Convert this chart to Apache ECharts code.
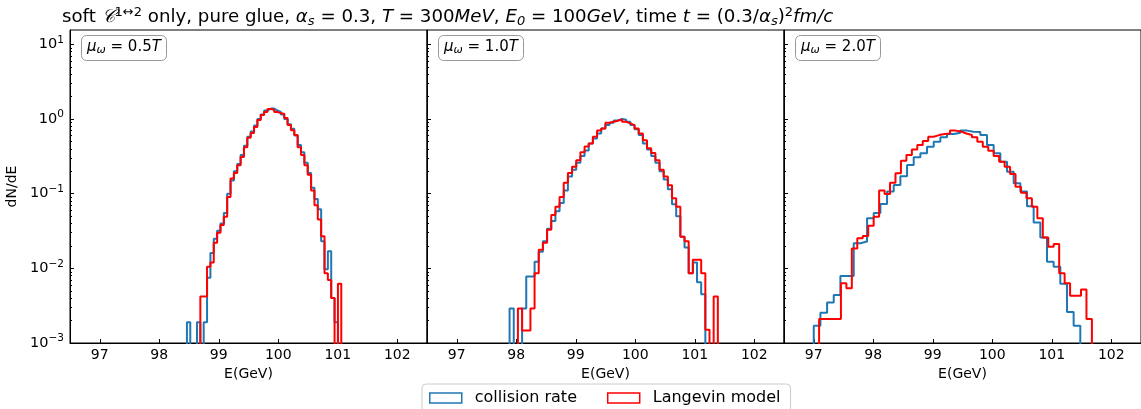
<!DOCTYPE html>
<html><head><meta charset="utf-8">
<script src="https://cdn.jsdelivr.net/npm/echarts@6/dist/echarts.min.js"></script>
<style>html,body{margin:0;padding:0;background:#fff}#c{width:1141px;height:409px}</style>
</head><body><div id="c"></div>
<script>
// ---------------- data ----------------
const seriesNames = ['collision rate', 'Langevin model'];
const panelMu = ['0.5', '1.0', '2.0'];
const xTickValues = [97, 98, 99, 100, 101, 102];
const yMajorTicks = [0.001, 0.01, 0.1, 1, 10];

// panel 1 (mu = 0.5T): bin start (GeV), bin width (GeV), dN/dE per bin
const p1Start = 98.465, p1Width = 0.0564;
const p1Collision = [0.0019,0,0,0.0019,0,0.0019,0.0075,0.016,0.025,0.032,0.04,0.055,0.1,0.15,0.2,0.25,0.33,0.44,0.58,0.68,0.82,1.0,1.15,1.3,1.38,1.38,1.3,1.25,1.15,1.0,0.85,0.74,0.6,0.45,0.36,0.26,0.19,0.12,0.085,0.062,0.023,0.0097,0.017,0.004,0.0019,0,0];
const p1Langevin  = [0,0,0,0,0.0042,0.0042,0.0105,0.012,0.022,0.030,0.038,0.049,0.09,0.16,0.19,0.24,0.31,0.42,0.56,0.65,0.78,0.97,1.13,1.24,1.36,1.33,1.24,1.2,1.18,1.03,0.83,0.71,0.61,0.42,0.33,0.24,0.18,0.11,0.07,0.045,0.027,0.0086,0.007,0.004,0,0.0062,0];

// panel 2 (mu = 1.0T)
const p2Start = 97.888, p2Width = 0.070;
const p2Collision = [0.0029,0,0,0.0029,0.0078,0.0078,0.0123,0.0167,0.023,0.034,0.043,0.058,0.075,0.11,0.17,0.21,0.26,0.32,0.38,0.47,0.55,0.64,0.75,0.83,0.89,0.96,1.0,0.98,0.92,0.83,0.73,0.61,0.47,0.39,0.32,0.26,0.2,0.155,0.115,0.072,0.05,0.0265,0.019,0.0086,0.012,0.0065,0.0045,0,0,0];
const p2Langevin  = [0,0,0.0029,0.00147,0.00147,0.0029,0.0086,0.0177,0.022,0.033,0.052,0.067,0.09,0.14,0.19,0.23,0.28,0.36,0.43,0.47,0.58,0.70,0.75,0.89,0.92,0.95,0.99,0.92,0.875,0.83,0.75,0.64,0.52,0.405,0.35,0.28,0.21,0.17,0.13,0.087,0.067,0.0265,0.023,0.0086,0.013,0.013,0.0086,0.0015,0,0.0042];

// panel 3 (mu = 2.0T): the two series use different binnings
const p3CollStart = 97.0, p3CollWidth = 0.112;
const p3Collision = [0.0017,0.00255,0.0035,0.0044,0.0079,0.0079,0.0217,0.0229,0.047,0.055,0.073,0.107,0.131,0.172,0.242,0.307,0.347,0.426,0.497,0.569,0.63,0.656,0.70,0.676,0.67,0.61,0.45,0.347,0.268,0.197,0.138,0.107,0.068,0.041,0.026,0.0123,0.0105,0.0062,0.0026,0.0017];
const p3LangStart = 97.09, p3LangWidth = 0.0917;
const p3Langevin  = [0.0021,0.0021,0.0021,0.0021,0.0063,0.0054,0.0185,0.0254,0.0272,0.0372,0.049,0.11,0.099,0.14,0.188,0.277,0.33,0.39,0.45,0.51,0.58,0.61,0.63,0.64,0.70,0.68,0.64,0.61,0.569,0.497,0.426,0.376,0.32,0.268,0.23,0.184,0.124,0.103,0.087,0.067,0.047,0.026,0.0195,0.0212,0.0086,0.0063,0.0043,0.0043,0.0052,0.0021];

// ---------------- helpers ----------------
const FLOOR = 1e-5; // empty bins fall below the axis and get clipped
function stepLine(start, width, vals) {
  const pts = [[start, FLOOR]];
  vals.forEach((v, i) => {
    const y = v > 0 ? v : FLOOR;
    pts.push([start + i * width, y], [start + (i + 1) * width, y]);
  });
  pts.push([start + vals.length * width, FLOOR]);
  return pts;
}
const yMinorTicks = [];
for (let e = -3; e <= 0; e++) for (let k = 2; k <= 9; k++) yMinorTicks.push(+(k * Math.pow(10, e)).toPrecision(3));

const panels = [
  [stepLine(p1Start, p1Width, p1Collision), stepLine(p1Start, p1Width, p1Langevin)],
  [stepLine(p2Start, p2Width, p2Collision), stepLine(p2Start, p2Width, p2Langevin)],
  [stepLine(p3CollStart, p3CollWidth, p3Collision), stepLine(p3LangStart, p3LangWidth, p3Langevin)]
];
const colors = ['#1f77b4', '#ff0000'];
const FONT = 'DejaVu Sans';
const gridLefts = [70, 427, 784];
const TF = 18.2;

const grids = [], xAxes = [], yAxes = [], series = [], titles = [];
titles.push({
  left: 62, top: 6, padding: 0,
  text: '{n|soft }{cal|𝒞}{sup|1↔2}{n| only, pure glue, }{i|α}{sub|s}{n| = 0.3, }{i|T}{n| = 300}{i|MeV}{n|, }{i|E}{sub|0}{n| = 100}{i|GeV}{n|, time }{i|t}{n| = (0.3/}{i|α}{sub|s}{n|)}{sup|2}{i|fm/c}',
  textStyle: {
    fontFamily: FONT, fontSize: TF, color: '#000', fontWeight: 'normal',
    rich: {
      n: {fontSize: TF, fontFamily: FONT, color: '#000'},
      i: {fontSize: TF, fontFamily: FONT, fontStyle: 'italic', color: '#000'},
      cal: {fontSize: TF, fontFamily: 'DejaVu Serif', fontStyle: 'italic', color: '#000'},
      sup: {fontSize: 13, fontFamily: FONT, color: '#000', padding: [0, 0, 10, 0]},
      sub: {fontSize: 13, fontFamily: FONT, fontStyle: 'italic', color: '#000', padding: [8, 0, 0, 0]}
    }
  }
});
panels.forEach((pair, p) => {
  grids.push({left: gridLefts[p], top: 30, width: 357, height: 313, show: true, borderColor: '#000', borderWidth: 1, backgroundColor: 'transparent'});
  xAxes.push({
    type: 'value', gridIndex: p, min: 96.5, max: 102.5, position: 'bottom',
    axisLine: {show: true, onZero: false, lineStyle: {color: '#000', width: 1}},
    axisTick: {show: true, inside: true, length: 4, customValues: xTickValues, lineStyle: {color: '#000'}},
    axisLabel: {customValues: xTickValues, fontSize: 14, fontFamily: FONT, color: '#000', margin: 5},
    splitLine: {show: false},
    name: 'E(GeV)', nameLocation: 'middle', nameGap: 22,
    nameTextStyle: {fontSize: 14, fontFamily: FONT, color: '#000'}
  });
  yAxes.push({
    type: 'log', logBase: 10, gridIndex: p, min: 0.001, max: 15.6, position: 'left',
    axisLine: {show: true, lineStyle: {color: '#000', width: 1}},
    axisTick: {show: true, inside: true, length: 4, customValues: yMajorTicks, lineStyle: {color: '#000'}},
    axisLabel: {
      show: p === 0, customValues: yMajorTicks, margin: 6,
      formatter: v => { const e = Math.round(Math.log10(v)); return '{b|10}{s|' + (e < 0 ? '\u2212' + (-e) : e) + '}'; },
      rich: {
        b: {fontSize: 14.5, fontFamily: FONT, color: '#000'},
        s: {fontSize: 10.5, fontFamily: FONT, color: '#000', padding: [0, 0, 9, 0]}
      }
    },
    splitLine: {show: false},
    name: p === 0 ? 'dN/dE' : '', nameLocation: 'middle', nameGap: 51, nameRotate: 90,
    nameTextStyle: {fontSize: 14, fontFamily: FONT, color: '#000'}
  });
  yAxes.push({
    type: 'log', logBase: 10, gridIndex: p, min: 0.001, max: 15.6, position: 'left',
    axisLine: {show: false},
    axisTick: {show: true, inside: true, length: 2, customValues: yMinorTicks, lineStyle: {color: '#000'}},
    axisLabel: {show: false}, splitLine: {show: false}
  });
  pair.forEach((pts, s) => {
    series.push({
      type: 'line', name: seriesNames[s], xAxisIndex: p, yAxisIndex: 2 * p,
      data: pts, symbol: 'none', smooth: false, clip: true, animation: false,
      lineStyle: {color: colors[s], width: 2}, itemStyle: {color: colors[s]}, z: 2 + s
    });
  });
  titles.push({
    left: gridLefts[p] + 11, top: 34, padding: [5, 6, 5, 6],
    borderColor: '#999', borderWidth: 1, borderRadius: 5, backgroundColor: '#fff',
    text: '{i|μ}{sub|ω}{n| = ' + panelMu[p] + '}{i|T}',
    textStyle: {
      fontSize: 15, fontFamily: FONT, color: '#000', fontWeight: 'normal',
      rich: {
        n: {fontSize: 15, fontFamily: FONT, color: '#000'},
        i: {fontSize: 15, fontFamily: FONT, fontStyle: 'italic', color: '#000'},
        sub: {fontSize: 11, fontFamily: FONT, fontStyle: 'italic', color: '#000', padding: [6, 0, 0, 0]}
      }
    }
  });
});

const chart = echarts.init(document.getElementById('c'), null, {renderer: 'canvas'});
chart.setOption({
  animation: false,
  backgroundColor: '#fff',
  title: titles,
  grid: grids, xAxis: xAxes, yAxis: yAxes, series: series,
  legend: {
    left: 422, top: 384, orient: 'horizontal',
    padding: [6, 10, 6, 7], itemGap: 30, itemWidth: 32, itemHeight: 10,
    borderColor: '#ccc', borderWidth: 1, borderRadius: 4, backgroundColor: '#fff',
    textStyle: {fontSize: 16, fontFamily: FONT, color: '#000', padding: [0, 0, 0, 8]},
    data: seriesNames.map((n, i) => ({
      name: n, icon: 'rect',
      itemStyle: {color: 'rgba(0,0,0,0)', borderColor: colors[i], borderWidth: 1.5}
    }))
  }
});
</script></body></html>
